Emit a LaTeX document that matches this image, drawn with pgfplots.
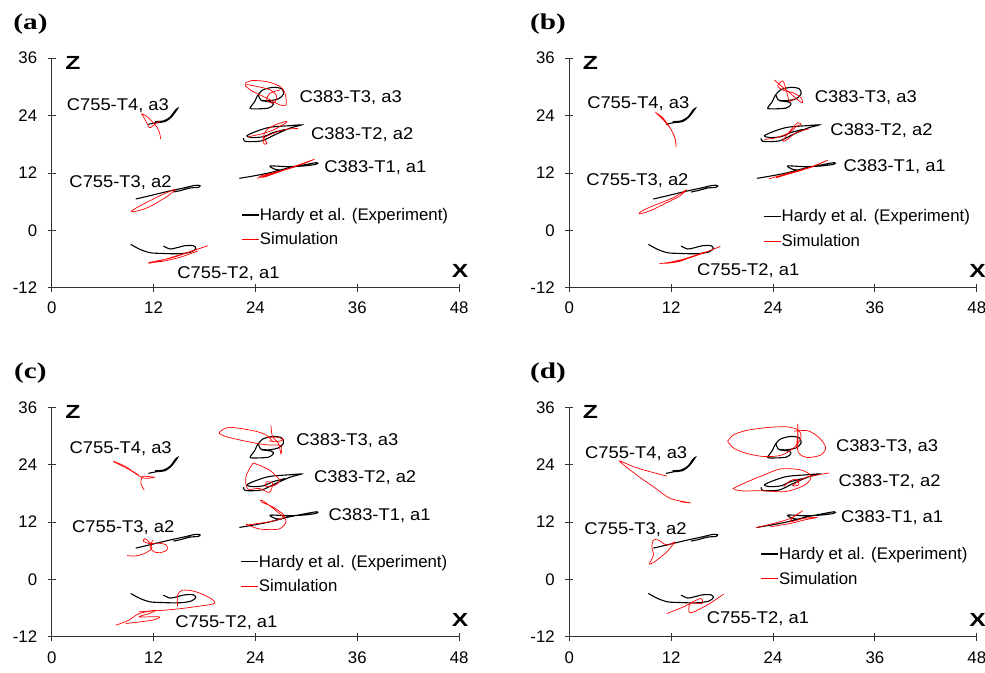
\documentclass[border=0pt]{standalone}
\usepackage{fontspec}
\setmainfont[FakeStretch=1.08]{Liberation Sans}
\newfontfamily\plain{Liberation Sans}
\newfontfamily\panelfont[FakeStretch=1.3,UprightFont={* Bold}]{Liberation Serif}
\newfontfamily\axbf[FakeStretch=1.3,UprightFont={* Bold}]{Liberation Sans}
\usepackage{pgfplots}
\usepackage{pgfplotstable}
\pgfplotsset{compat=1.18}
\usepgfplotslibrary{groupplots}
\newcommand\lbl{\fontsize{17}{20}\selectfont}
\newcommand\tkl{\plain\fontsize{16.8}{20}\selectfont}
\newcommand\pnl{\panelfont\fontsize{22.5}{26}\selectfont}

% Experiment (Hardy et al.), identical in all panels
\pgfplotstableread{
x y
9.31 -2.94
10.41 -3.99
11.59 -4.69
12.96 -4.83
14.34 -4.90
15.51 -4.83
16.50 -4.48
16.97 -3.78
16.69 -3.22
15.71 -3.22
14.73 -3.64
13.94 -3.90
13.16 -3.29
}\BkTtwo
\pgfplotstableread{
x y
9.90 6.55
11.59 7.25
13.55 8.09
15.51 8.85
16.89 9.41
17.48 9.34
17.28 9.00
16.30 8.85
15.12 8.29
14.34 8.02
}\BkTthree
\pgfplotstableread{
x y
11.39 22.18
12.37 22.53
13.35 22.74
14.14 23.79
14.85 25.53
14.53 25.04
13.94 23.65
13.16 22.88
12.17 22.74
}\BkTfour
\pgfplotstableread{
x y
22.11 10.88
23.76 11.37
25.73 12.06
27.69 12.97
29.65 13.67
31.22 14.16
31.15 13.81
29.65 13.46
27.69 13.32
25.73 13.46
26.32 12.76
27.10 12.60
}\BkCone
\pgfplotstableread{
x y
22.60 19.30
22.80 18.60
24.70 18.70
26.30 20.00
28.10 21.40
29.45 22.05
28.10 21.90
25.70 21.55
24.10 20.70
23.00 19.80
23.60 19.40
25.00 19.60
26.00 20.40
27.50 21.10
}\BkCtwo
\pgfplotstableread{
x y
24.3 28.3
24.9 29.4
26.1 29.9
27.1 29.6
27.3 28.5
26.7 27.5
25.5 27.1
24.6 27.3
24.3 28.3
23.9 26.9
23.4 25.7
23.6 25.4
25.5 25.55
26.1 26.3
25.9 26.8
24.7 27.1
}\BkCthree

\pgfplotsset{
  panel/.style={
    scale only axis, width=407.5pt, height=229.5pt,
    xmin=0, xmax=48, ymin=-12, ymax=36,
    axis x line=bottom, axis y line=left,
    axis line style={-, black!80, line width=0.9pt},
    xtick={0,12,24,36,48}, ytick={-12,0,12,24,36},
    xticklabels={0,12,24,36,48}, yticklabels={-12,0,12,24,36},
    tick align=center, major tick length=8pt,
    tick style={black!80, line width=0.9pt},
    ticklabel style={font=\tkl},
    xticklabel style={yshift=-7pt},
    yticklabel style={xshift=-7pt},
    /pgf/number format/assume math mode=true,
    clip=false,
    legend cell align=left,
    legend image code/.code={\draw[#1] (0pt,0pt) -- (17pt,0pt);},
    legend style={draw=none, fill=none, inner sep=0pt, font=\tkl,
      nodes={inner xsep=0.5pt, inner ysep=2pt}, row sep=7pt},
  },
  bk/.style={black, line width=1.1pt, smooth, tension=0.5, forget plot},
  rd/.style={red, line width=0.7pt, smooth, tension=0.5, forget plot},
}

\newcommand\blackset{%
  \addplot[bk] table {\BkTtwo};
  \addplot[bk] table {\BkTthree};
  \addplot[bk] table {\BkTfour};
  \addplot[bk] table {\BkCone};
  \addplot[bk] table {\BkCtwo};
  \addplot[bk] table {\BkCthree};
  \addlegendimage{black, line width=1.1pt}
  \addlegendentry{Hardy et al. (Experiment)}
  \addlegendimage{red, line width=0.8pt}
  \addlegendentry{Simulation}
  \node[font=\axbf\fontsize{19}{22}\selectfont] at (axis cs:2.5,35.1) {Z};
  \node[font=\axbf\fontsize{19}{22}\selectfont] at (axis cs:48.1,-8.5) {X};
}

\begin{document}
\begin{tikzpicture}
\begin{groupplot}[group style={group size=2 by 2, horizontal sep=110.1pt, vertical sep=119.6pt}]
% ---------------- (a)
\nextgroupplot[panel, legend style={at={(axis cs:22.3,5.1)}, anchor=north west}]
\blackset
\addplot[rd] coordinates {(12.84,19.11) (12.7,20.4) (12.4,21.6) (11.9,22.6) (11.3,23.7) (10.6,24.4) (10.7,24.1) (11.1,22.8) (11.5,21.5) (11.8,21.7) (12.3,22.4) (12.8,22.9)};
\addplot[rd] coordinates {(14.5,8.6) (13.2,7.6) (11.8,6.4) (10.6,5.3) (9.6,4.3) (9.4,3.9) (10.2,4.1) (11.5,4.9) (12.5,5.9) (13.6,7.1) (14.6,8.5)};
\addplot[rd] coordinates {(11.39,-6.92) (12.9,-6.3) (14.34,-5.52) (16.4,-4.4) (18.38,-3.22) (16.30,-4.5) (14.8,-5.4) (13.55,-6.0) (11.59,-6.7) (13.0,-6.5) (15.2,-5.6) (17.2,-4.3)};
\addplot[rd] coordinates {(24.16,10.88) (26.12,11.93) (28.48,13.32) (30.95,14.86) (29.26,13.67) (26.90,12.27) (24.94,11.09) (24.5,11.3) (26.0,12.0) (28.0,12.9)};
\addplot[rd] coordinates {(23.17,19.6) (24.55,20.09) (26.12,21.0) (27.61,22.53) (27.49,22.74) (26.32,22.04) (25.33,21.0) (24.94,19.6) (25.33,18.2) (25.02,18.07) (24.9,19.2) (26.12,20.3) (27.69,21.14) (29.0,21.3)};
\addplot[rd] coordinates {(22.78,30.76) (23.57,31.32) (25.33,31.11) (26.90,30.07) (27.49,28.67) (27.61,26.23) (26.90,26.23) (25.73,27.28) (24.55,28.32) (23.37,29.37) (22.78,30.42) (23.6,30.3) (25.73,29.37) (26.51,27.97) (26.12,26.58) (25.33,27.28) (25.73,28.67) (26.9,29.37)};
\node[font=\lbl, anchor=base west] at (axis cs:1.37,25.1) {C755-T4, a3};
\node[font=\lbl, anchor=base west] at (axis cs:28.8,26.7) {C383-T3, a3};
\node[font=\lbl, anchor=base west] at (axis cs:30.15,19.1) {C383-T2, a2};
\node[font=\lbl, anchor=base west] at (axis cs:31.7,12.0) {C383-T1, a1};
\node[font=\lbl, anchor=base west] at (axis cs:1.68,9.0) {C755-T3, a2};
\node[font=\lbl, anchor=base west] at (axis cs:14.4,-10.0) {C755-T2, a1};
\node[font=\pnl] at (axis cs:-2.5,43.1) {(a)};
% ---------------- (b)
\nextgroupplot[panel, legend style={at={(axis cs:22.8,4.8)}, anchor=north west}]
\blackset
\addplot[rd] coordinates {(12.57,17.47) (12.49,19.0) (11.98,21.1) (11.19,22.85) (10.41,24.25) (10.21,24.6) (11.0,23.55) (11.78,21.66) (12.37,19.71) (12.57,17.9)};
\addplot[rd] coordinates {(13.83,8.52) (12.96,7.12) (11.39,5.72) (9.82,4.32) (8.45,3.48) (8.25,3.62) (8.84,4.32) (10.21,5.37) (12.18,6.77) (13.83,8.52)};
\addplot[rd] coordinates {(10.6,-7.0) (13.35,-6.2) (15.71,-4.8) (17.79,-3.37) (15.9,-4.7) (14.2,-5.7) (12.96,-6.52) (11.3,-6.9) (13.5,-6.0) (16.0,-4.5)};
\addplot[rd] coordinates {(23.49,10.76) (25.92,12.01) (28.28,13.06) (30.44,14.67) (28.67,13.41) (26.32,12.15) (24.35,10.97) (25.5,11.6) (27.5,12.6)};
\addplot[rd] coordinates {(22.98,19.01) (24.35,19.36) (25.92,20.41) (26.71,21.66) (27.29,22.15) (26.90,22.5) (26.32,21.45) (25.53,19.71) (25.14,18.66) (25.6,18.9) (26.71,20.41) (28.28,21.24)};
\addplot[rd] coordinates {(24.16,31.45) (24.74,30.54) (25.92,28.8) (27.1,27.05) (27.49,26.7) (27.29,27.75) (26.32,28.8) (25.2,29.3) (24.55,30.2) (25.14,31.24) (25.53,29.5) (25.92,27.05) (26.5,27.5)};
\node[font=\lbl, anchor=base west] at (axis cs:1.7,25.5) {C755-T4, a3};
\node[font=\lbl, anchor=base west] at (axis cs:28.5,26.7) {C383-T3, a3};
\node[font=\lbl, anchor=base west] at (axis cs:30.35,19.8) {C383-T2, a2};
\node[font=\lbl, anchor=base west] at (axis cs:31.9,12.4) {C383-T1, a1};
\node[font=\lbl, anchor=base west] at (axis cs:1.6,9.3) {C755-T3, a2};
\node[font=\lbl, anchor=base west] at (axis cs:14.65,-9.5) {C755-T2, a1};
\node[font=\pnl] at (axis cs:-2.5,43.1) {(b)};
% ---------------- (c)
\nextgroupplot[panel, legend style={at={(axis cs:22.2,5.6)}, anchor=north west}]
\blackset
\addplot[rd] coordinates {(7.24,24.76) (8.73,23.58) (10.31,21.62) (11.09,21.14) (12.08,21.35) (11.49,21.49) (10.70,21.49) (10.50,20.09) (10.9,18.7)};
\addplot[rd] coordinates {(7.3,24.6) (8.9,23.2) (10.2,21.9)};
\addplot[rd] coordinates {(8.9,5.0) (9.8,4.9) (10.9,5.4) (11.8,6.5) (11.6,7.6) (11.0,8.5) (10.8,8.0) (11.5,7.5) (12.6,7.6) (13.5,7.2) (13.6,6.2) (12.8,5.6) (12.0,5.8) (11.6,6.8) (11.9,8.2)};
\addplot[rd] coordinates {(7.55,-9.57) (9.0,-8.6) (10.31,-7.13) (12.27,-6.43) (11.49,-7.13) (10.31,-7.82) (12.67,-7.82) (11.88,-8.52) (8.73,-9.22)};
\addplot[rd] coordinates {(10.31,-6.78) (14.24,-6.29) (17.39,-5.59) (19.16,-5.03) (18.77,-3.99) (17.0,-2.59) (15.42,-2.24) (14.83,-3.29) (14.83,-5.59)};
\addplot[rd] coordinates {(22.88,11.6) (24.45,10.56) (26.8,10.56) (27.6,12.3) (26.4,14.4) (24.84,16.48) (24.7,16.2) (26.2,15.0) (27.42,13.11) (25.65,12.06) (22.90,11.37)};
\addplot[rd] coordinates {(26.8,21.0) (25.65,22.88) (24.07,24.14) (23.66,24.17) (22.88,21.49) (23.07,18.93) (24.47,19.04) (25.62,18.2) (26.04,20.09) (25.3,20.4) (25.26,19.4) (26.44,19.8) (27.0,21.0)};
\addplot[rd] coordinates {(26.04,28.81) (25.26,30.21) (23.66,31.14) (20.9,31.8) (19.73,30.7) (20.54,29.86) (22.48,29.05) (24.45,28.36) (25.65,28.11) (27.0,28.0) (27.0,26.26) (26.7,28.5) (26.0,29.86) (25.83,32.2)};
\addplot[rd] coordinates {(25.3,29.6) (26.3,29.8) (27.3,29.3) (26.5,28.8) (25.6,29.0)};
\node[font=\lbl, anchor=base west] at (axis cs:1.7,26.4) {C755-T4, a3};
\node[font=\lbl, anchor=base west] at (axis cs:28.4,28.1) {C383-T3, a3};
\node[font=\lbl, anchor=base west] at (axis cs:30.5,20.3) {C383-T2, a2};
\node[font=\lbl, anchor=base west] at (axis cs:32.2,12.4) {C383-T1, a1};
\node[font=\lbl, anchor=base west] at (axis cs:2.0,9.8) {C755-T3, a2};
\node[font=\lbl, anchor=base west] at (axis cs:14.15,-10.05) {C755-T2, a1};
\node[font=\pnl] at (axis cs:-2.5,43.1) {(c)};
% ---------------- (d)
\nextgroupplot[panel, legend style={at={(axis cs:22.5,7.2)}, anchor=north west}]
\blackset
\addplot[rd] coordinates {(11.49,21.62) (9.52,22.53) (7.55,23.58) (5.90,24.76) (7.95,21.83) (9.91,19.39) (11.88,16.95) (14.16,16.04) (13.06,16.25)};
\addplot[rd] coordinates {(12.47,7.88) (11.49,5.78) (10.31,4.04) (9.44,3.2) (9.91,5.09) (9.72,6.83) (9.91,8.23) (10.5,8.23) (11.49,7.18) (12.47,7.88)};
\addplot[rd] coordinates {(11.49,-7.13) (13.46,-5.73) (15.42,-3.99) (15.62,-5.03) (14.24,-5.03) (14.24,-6.99) (16.21,-5.38) (18.18,-3.08)};
\addplot[rd] coordinates {(21.99,10.81) (24.07,11.72) (26.04,12.76) (27.5,14.37) (26.44,13.11) (26.04,12.06) (27.61,12.76) (29.11,12.97) (27.6,12.4) (26.04,11.72) (23.68,11.02)};
\addplot[rd] coordinates {(19.22,18.93) (20.54,20.09) (22.9,21.83) (24.92,23.12) (27.28,22.9) (28.46,21.7) (28.01,20.09) (26.83,19.04) (25.26,18.34) (22.56,18.57) (20.54,18.5) (19.4,18.8)};
\addplot[rd] coordinates {(25.26,19.39) (26.04,20.65) (26.83,20.93) (27.0,19.8) (26.3,19.6) (27.8,21.3) (30.6,22.27)};
\addplot[rd] coordinates {(18.65,28.9) (19.4,30.3) (21.0,31.2) (23.5,31.8) (25.7,31.9) (27.0,31.2) (27.3,29.6) (26.5,27.6) (25.0,26.0) (23.0,25.7) (21.0,26.3) (19.4,27.4) (18.65,28.9)};
\addplot[rd] coordinates {(26.5,31.0) (28.1,31.1) (29.4,29.7) (30.2,27.6) (29.6,26.0) (28.0,25.5) (27.1,26.3) (26.8,28.0) (26.9,30.2) (26.9,32.55) (26.95,30.0) (26.9,27.3)};
\node[font=\lbl, anchor=base west] at (axis cs:1.45,25.2) {C755-T4, a3};
\node[font=\lbl, anchor=base west] at (axis cs:31.0,26.7) {C383-T3, a3};
\node[font=\lbl, anchor=base west] at (axis cs:31.3,19.4) {C383-T2, a2};
\node[font=\lbl, anchor=base west] at (axis cs:31.6,11.9) {C383-T1, a1};
\node[font=\lbl, anchor=base west] at (axis cs:1.37,9.5) {C755-T3, a2};
\node[font=\lbl, anchor=base west] at (axis cs:15.8,-9.3) {C755-T2, a1};
\node[font=\pnl] at (axis cs:-2.5,43.1) {(d)};
\end{groupplot}
\pgfresetboundingbox
\path[use as bounding box] ([xshift=-51.7pt,yshift=287.7pt]group c1r1.south west) rectangle ([xshift=933.3pt,yshift=-384.3pt]group c1r1.south west);
\end{tikzpicture}
\end{document}
